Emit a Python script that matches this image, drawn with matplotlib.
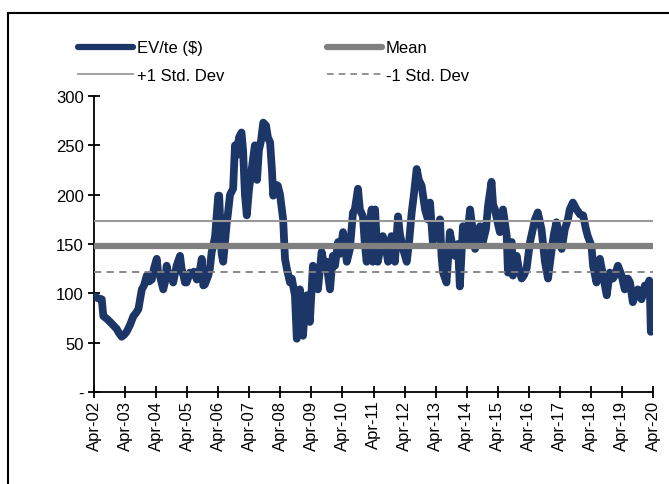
import numpy as np
import matplotlib.pyplot as plt
import matplotlib.patches as patches
from matplotlib.lines import Line2D

plt.rcParams['font.family'] = ['Liberation Sans', 'DejaVu Sans']

# EV/te ($), time as decimal years
years = [2002.25, 2002.38, 2002.50, 2002.55, 2002.67, 2002.77, 2002.86, 2002.98, 2003.05, 2003.14,
         2003.22, 2003.30, 2003.41, 2003.52, 2003.60, 2003.68, 2003.79, 2003.86, 2003.95, 2004.02,
         2004.11, 2004.18, 2004.27, 2004.31, 2004.37, 2004.48, 2004.54, 2004.59, 2004.63, 2004.75,
         2004.80, 2004.91, 2005.02, 2005.07, 2005.13, 2005.18, 2005.23, 2005.34, 2005.40, 2005.47,
         2005.56, 2005.63, 2005.72, 2005.77, 2005.82, 2005.93, 2005.98, 2006.04, 2006.09, 2006.15,
         2006.20, 2006.25, 2006.28, 2006.36, 2006.41, 2006.52, 2006.56, 2006.63, 2006.73, 2006.79,
         2006.84, 2006.92, 2007.00, 2007.05, 2007.11, 2007.17, 2007.24, 2007.33, 2007.37, 2007.43,
         2007.50, 2007.56, 2007.63, 2007.70, 2007.79, 2007.85, 2007.92, 2007.98, 2008.02, 2008.11,
         2008.17, 2008.24, 2008.34, 2008.40, 2008.46, 2008.56, 2008.62, 2008.72, 2008.78, 2008.82,
         2008.88, 2008.98, 2009.04, 2009.10, 2009.14, 2009.20, 2009.30, 2009.40, 2009.46, 2009.58,
         2009.65, 2009.74, 2009.78, 2009.85, 2009.94, 2010.01, 2010.11, 2010.17, 2010.27, 2010.33,
         2010.39, 2010.49, 2010.59, 2010.65, 2010.75, 2010.81, 2010.91, 2010.97, 2011.03, 2011.10,
         2011.19, 2011.23, 2011.30, 2011.39, 2011.46, 2011.55, 2011.65, 2011.72, 2011.83, 2011.88,
         2011.94, 2012.04, 2012.10, 2012.20, 2012.32, 2012.39, 2012.48, 2012.55, 2012.64, 2012.71,
         2012.80, 2012.91, 2013.00, 2013.07, 2013.16, 2013.23, 2013.33, 2013.39, 2013.44, 2013.49,
         2013.60, 2013.71, 2013.78, 2013.87, 2013.97, 2014.03, 2014.13, 2014.25, 2014.36, 2014.42,
         2014.52, 2014.61, 2014.68, 2014.77, 2014.87, 2014.94, 2015.05, 2015.10, 2015.16, 2015.26,
         2015.32, 2015.42, 2015.54, 2015.58, 2015.64, 2015.70, 2015.74, 2015.86, 2015.93, 2016.02,
         2016.09, 2016.18, 2016.29, 2016.38, 2016.45, 2016.54, 2016.66, 2016.77, 2016.87, 2016.93,
         2016.99, 2017.06, 2017.14, 2017.22, 2017.31, 2017.41, 2017.51, 2017.57, 2017.67, 2017.79,
         2017.90, 2018.00, 2018.09, 2018.15, 2018.27, 2018.32, 2018.43, 2018.54, 2018.64, 2018.76,
         2018.86, 2018.96, 2019.02, 2019.12, 2019.24, 2019.34, 2019.44, 2019.51, 2019.60, 2019.70,
         2019.76, 2019.88, 2019.99, 2020.05, 2020.13, 2020.15, 2020.18]
ev_te = [97, 95, 94, 77, 74, 71, 68, 64, 60, 56,
         58, 61, 68, 77, 80, 84, 104, 108, 118, 112,
         114, 125, 135, 122, 118, 104, 112, 128, 121, 118,
         111, 128, 138, 125, 118, 111, 111, 121, 120, 122,
         114, 118, 135, 108, 109, 118, 125, 142, 148, 158,
         179, 199, 199, 140, 132, 170, 180, 200, 206, 250,
         240, 258, 263, 245, 200, 179, 205, 226, 235, 250,
         215, 245, 255, 273, 270, 258, 253, 225, 199, 210,
         209, 200, 175, 135, 125, 111, 115, 98, 54, 75,
         104, 57, 85, 98, 90, 71, 128, 115, 104, 142,
         130, 132, 120, 104, 138, 128, 152, 140, 162, 150,
         132, 145, 182, 185, 206, 185, 178, 150, 132, 160,
         185, 132, 185, 132, 145, 158, 145, 132, 158, 150,
         132, 178, 160, 145, 132, 150, 182, 200, 226, 215,
         209, 185, 175, 192, 152, 170, 158, 175, 138, 121,
         111, 162, 150, 138, 150, 107, 168, 152, 185, 170,
         145, 160, 168, 152, 165, 189, 213, 190, 185, 170,
         162, 185, 158, 121, 145, 152, 118, 138, 125, 115,
         118, 125, 152, 165, 175, 182, 165, 132, 115, 130,
         145, 160, 172, 160, 145, 165, 175, 185, 192, 185,
         180, 179, 165, 158, 148, 128, 111, 135, 118, 98,
         121, 115, 118, 128, 118, 104, 115, 111, 91, 100,
         104, 94, 108, 100, 113, 100, 61]

mean_val = 147.5
std_val = 26.0
tick_years = list(range(2002, 2021))
tick_labels = ['Apr-%02d' % (y % 100) for y in tick_years]
y_ticks = [0, 50, 100, 150, 200, 250, 300]
y_labels = ['-', '50', '100', '150', '200', '250', '300']

fig = plt.figure(figsize=(6.69, 4.85), dpi=100)
ax = fig.add_axes([94 / 669, 92 / 485, 559 / 669, 296 / 485])

navy = '#1c3668'
ax.plot(years, ev_te, color=navy, lw=5.6, solid_joinstyle='round', solid_capstyle='round', zorder=3)
ax.axhline(mean_val, color='#808080', lw=4.5, zorder=4)
ax.axhline(mean_val + std_val, color='#999999', lw=1.5, zorder=4)
ax.axhline(mean_val - std_val, color='#808080', lw=1.3, ls=(0, (4, 3)), zorder=4)

ax.set_xlim(2002.25, 2020.25)
ax.set_ylim(0, 300)
ax.set_xticks([y + 0.25 for y in tick_years])
ax.set_xticklabels(tick_labels, rotation=90, fontsize=12)
ax.set_yticks(y_ticks)
ax.set_yticklabels(y_labels, fontsize=12)
ax.tick_params(axis='both', direction='inout', length=9, width=1.3, color='black', pad=3)
ax.tick_params(axis='x', pad=1)
for side in ['top', 'right']:
    ax.spines[side].set_visible(False)
for side in ['left', 'bottom']:
    ax.spines[side].set_linewidth(1.3)

handles = [Line2D([], [], color=navy, lw=4.5, solid_capstyle='round'),
           Line2D([], [], color='#999999', lw=1.3),
           Line2D([], [], color='#808080', lw=4.5, solid_capstyle='round'),
           Line2D([], [], color='#808080', lw=1.2, ls=(0, (4, 3)))]
labels = ['EV/te ($)', '+1 Std. Dev', 'Mean', '-1 Std. Dev']
fig.legend(handles, labels, ncol=2, frameon=False, fontsize=12,
           loc='upper left', bbox_to_anchor=(70 / 669, 1 - 33 / 485),
           handlelength=3.3, handletextpad=0.2, columnspacing=6.2,
           labelspacing=0.75, borderpad=0)

# outer frame of the chart
fig.patches.append(patches.Rectangle((8 / 669, -0.1), 2, 1.1 - 14 / 485, transform=fig.transFigure,
                                     fill=False, edgecolor='black', lw=1.5))

fig.savefig('out.png', dpi=100)
